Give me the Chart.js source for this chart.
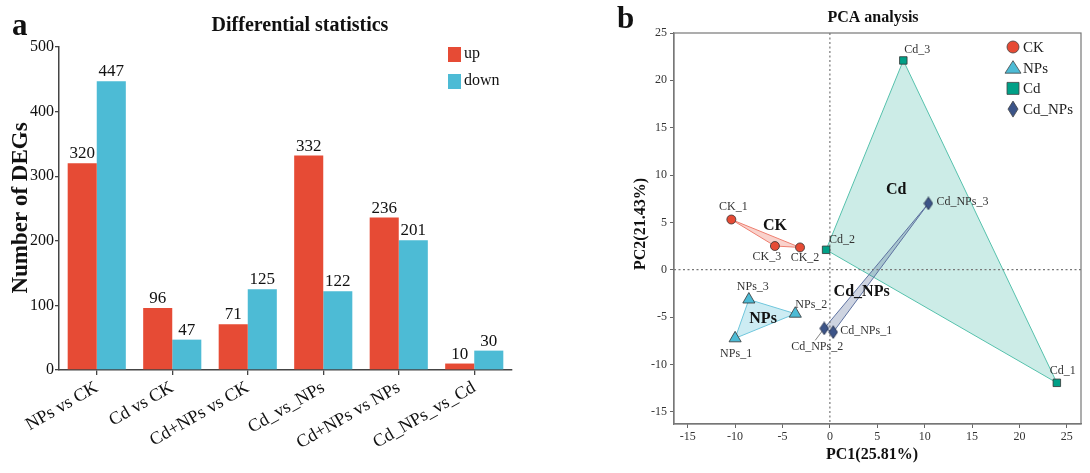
<!DOCTYPE html>
<html>
<head>
<meta charset="utf-8">
<script src="https://cdn.jsdelivr.net/npm/chart.js@4.4.0/dist/chart.umd.min.js"></script>
<style>
  html, body { margin: 0; padding: 0; background: #fff; overflow: hidden; }
  #barWrap { position: absolute; left: 0; top: 0; width: 600px; height: 473px; }
  #pcaWrap { position: absolute; left: 600px; top: 0; width: 490px; height: 473px; }
</style>
</head>
<body>
<div id="barWrap"><canvas id="barChart" width="600" height="473"></canvas></div>
<div id="pcaWrap"><canvas id="pcaChart" width="490" height="473"></canvas></div>
<script>
const FONT = "'Liberation Serif', 'Times New Roman', serif";

// ---- panel a: DEG counts ----
const comparisons = ["NPs vs CK", "Cd vs CK", "Cd+NPs vs CK", "Cd_vs_NPs", "Cd+NPs vs NPs", "Cd_NPs_vs_Cd"];
const upCounts = [320, 96, 71, 332, 236, 10];
const downCounts = [447, 47, 125, 122, 201, 30];
const degTicks = [0, 100, 200, 300, 400, 500];

// ---- panel b: PCA scores ----
const ckNames = ["CK_1", "CK_2", "CK_3"];
const ckX = [-10.4, -3.15, -5.8];
const ckY = [5.3, 2.35, 2.5];
const npsNames = ["NPs_1", "NPs_2", "NPs_3"];
const npsX = [-10.0, -3.65, -8.55];
const npsY = [-7.25, -4.65, -3.15];
const cdNames = ["Cd_1", "Cd_2", "Cd_3"];
const cdX = [23.95, -0.4, 7.75];
const cdY = [-11.95, 2.1, 22.1];
const cdnpsNames = ["Cd_NPs_1", "Cd_NPs_2", "Cd_NPs_3"];
const cdnpsX = [0.35, -0.6, 10.4];
const cdnpsY = [-6.6, -6.2, 7.0];
const groupNames = ["CK", "NPs", "Cd", "Cd_NPs"];
const groupLabelX = [-5.8, -7.05, 7.0, 3.35];
const groupLabelY = [4.65, -5.2, 8.4, -2.3];
const pcTicks = [-15, -10, -5, 0, 5, 10, 15, 20, 25];

const RED = "#E64B35", BLUE = "#4DBBD5", TEAL = "#00A087", NAVY = "#3C5488";

// ---------- panel a ----------
const barDecor = {
  id: "barDecor",
  afterDraw(chart) {
    const ctx = chart.ctx;
    ctx.save();
    ctx.fillStyle = "#111";
    ctx.textAlign = "left";
    ctx.textBaseline = "alphabetic";
    ctx.font = "bold 31px " + FONT;
    ctx.fillText("a", 12, 35);
    ctx.textAlign = "center";
    ctx.font = "bold 20px " + FONT;
    ctx.fillText("Differential statistics", 300, 31);

    ctx.save();
    ctx.translate(21, 208);
    ctx.rotate(-Math.PI / 2);
    ctx.textBaseline = "middle";
    ctx.font = "bold 23px " + FONT;
    ctx.fillText("Number of DEGs", 0, 0);
    ctx.restore();

    // value labels
    ctx.font = "17px " + FONT;
    ctx.textBaseline = "alphabetic";
    chart.data.datasets.forEach((ds, i) => {
      chart.getDatasetMeta(i).data.forEach((bar, j) => {
        ctx.fillText(String(ds.data[j]), bar.x, bar.y - 5);
      });
    });

    // legend
    ctx.textAlign = "left";
    ctx.textBaseline = "middle";
    ctx.font = "16px " + FONT;
    chart.data.datasets.forEach((ds, i) => {
      const y = 47 + i * 27;
      ctx.fillStyle = ds.backgroundColor;
      ctx.fillRect(448, y, 13, 15);
      ctx.fillStyle = "#111";
      ctx.fillText(ds.label, 464, y + 7);
    });
    ctx.restore();
  }
};

new Chart(document.getElementById("barChart"), {
  type: "bar",
  data: {
    labels: comparisons,
    datasets: [
      { label: "up", data: upCounts, backgroundColor: RED, categoryPercentage: 0.77, barPercentage: 1 },
      { label: "down", data: downCounts, backgroundColor: BLUE, categoryPercentage: 0.77, barPercentage: 1 }
    ]
  },
  options: {
    responsive: false,
    animation: false,
    layout: { padding: { top: 47, right: 88, left: 0, bottom: 0 } },
    plugins: { legend: { display: false }, tooltip: { enabled: false } },
    scales: {
      x: {
        grid: { offset: false, drawOnChartArea: false, tickLength: 5, color: "#444", lineWidth: 1.3 },
        border: { color: "#444", width: 1.5 },
        ticks: { font: { family: FONT, size: 18 }, color: "#111", minRotation: 30, maxRotation: 30, padding: 2 },
        afterFit: s => { s.height = 103; }
      },
      y: {
        min: 0,
        max: 500,
        afterBuildTicks: s => { s.ticks = degTicks.map(v => ({ value: v })); },
        grid: { drawOnChartArea: false, tickLength: 4, color: "#444", lineWidth: 1.3 },
        border: { color: "#444", width: 1.5 },
        ticks: { font: { family: FONT, size: 16 }, color: "#111", padding: 1 },
        afterFit: s => { s.width = 59; }
      }
    }
  },
  plugins: [barDecor]
});

// ---------- panel b ----------
function diamondCanvas(fill) {
  const c = document.createElement("canvas");
  c.width = 10; c.height = 14;
  const g = c.getContext("2d");
  g.beginPath();
  g.moveTo(5, 0.7); g.lineTo(9.3, 7); g.lineTo(5, 13.3); g.lineTo(0.7, 7); g.closePath();
  g.fillStyle = fill; g.fill();
  g.strokeStyle = "#1f2a44"; g.lineWidth = 0.8; g.stroke();
  return c;
}

const pcaGroups = [
  { names: ckNames, xs: ckX, ys: ckY, color: RED, edge: "#EE7F70", fill: "rgba(230,75,53,0.25)", style: "circle", r: 4.5 },
  { names: npsNames, xs: npsX, ys: npsY, color: BLUE, edge: "#6FC6DC", fill: "rgba(77,187,213,0.28)", style: "triangle", r: 7 },
  { names: cdNames, xs: cdX, ys: cdY, color: TEAL, edge: "#55C1AC", fill: "rgba(0,160,135,0.2)", style: "rect", r: 5.3 },
  { names: cdnpsNames, xs: cdnpsX, ys: cdnpsY, color: NAVY, edge: "#5E72A0", fill: "rgba(60,84,136,0.25)", style: diamondCanvas(NAVY), r: 6 }
];

// pixel offsets of each sample label from its point
const labelOffsets = {
  CK_1: [2, -13], CK_2: [5, 10], CK_3: [-8, 11],
  NPs_1: [1, 16], NPs_2: [16, -9], NPs_3: [4, -13],
  Cd_1: [6, -12], Cd_2: [16, -10], Cd_3: [14, -11],
  Cd_NPs_1: [33, -1.5], Cd_NPs_2: [-7, 18], Cd_NPs_3: [34, -2]
};

function drawShape(ctx, style, x, y, color) {
  ctx.beginPath();
  if (style === "circle") {
    ctx.arc(x, y, 6, 0, Math.PI * 2);
  } else if (style === "triangle") {
    ctx.moveTo(x, y - 7); ctx.lineTo(x + 8, y + 5.5); ctx.lineTo(x - 8, y + 5.5); ctx.closePath();
  } else if (style === "rect") {
    ctx.rect(x - 6, y - 6, 12, 12);
  } else {
    ctx.moveTo(x, y - 8); ctx.lineTo(x + 5, y); ctx.lineTo(x, y + 8); ctx.lineTo(x - 5, y); ctx.closePath();
  }
  ctx.fillStyle = color; ctx.fill();
  ctx.strokeStyle = "#444"; ctx.lineWidth = 0.8; ctx.stroke();
}

const pcaDecor = {
  id: "pcaDecor",
  beforeDatasetsDraw(chart) {
    const ctx = chart.ctx, sx = chart.scales.x, sy = chart.scales.y, a = chart.chartArea;
    ctx.save();
    // group hulls, Cd first so Cd_NPs sits on top
    [2, 0, 1, 3].forEach(gi => {
      const g = pcaGroups[gi];
      ctx.beginPath();
      g.xs.forEach((v, k) => {
        const px = sx.getPixelForValue(v), py = sy.getPixelForValue(g.ys[k]);
        if (k === 0) ctx.moveTo(px, py); else ctx.lineTo(px, py);
      });
      ctx.closePath();
      ctx.fillStyle = g.fill; ctx.fill();
      ctx.strokeStyle = g.edge; ctx.lineWidth = 1; ctx.stroke();
    });
    // zero lines
    ctx.strokeStyle = "#777"; ctx.lineWidth = 1.2; ctx.setLineDash([2, 2.5]);
    const x0 = sx.getPixelForValue(0), y0 = sy.getPixelForValue(0);
    ctx.beginPath();
    ctx.moveTo(x0, a.top); ctx.lineTo(x0, a.bottom);
    ctx.moveTo(a.left, y0); ctx.lineTo(a.right, y0);
    ctx.stroke();
    ctx.setLineDash([]);
    // leader line for Cd_NPs_2
    const m = chart.getDatasetMeta(3).data[1];
    ctx.strokeStyle = "#666"; ctx.lineWidth = 0.8;
    ctx.beginPath(); ctx.moveTo(m.x, m.y); ctx.lineTo(m.x - 9, m.y + 12); ctx.stroke();
    ctx.restore();
  },
  afterDraw(chart) {
    const ctx = chart.ctx, sx = chart.scales.x, sy = chart.scales.y, a = chart.chartArea;
    ctx.save();
    ctx.strokeStyle = "#777"; ctx.lineWidth = 1.2;
    ctx.strokeRect(a.left, a.top, a.right - a.left, a.bottom - a.top);

    // sample labels
    ctx.fillStyle = "#333"; ctx.font = "12px " + FONT;
    ctx.textAlign = "center"; ctx.textBaseline = "middle";
    pcaGroups.forEach((g, gi) => {
      chart.getDatasetMeta(gi).data.forEach((pt, k) => {
        const off = labelOffsets[g.names[k]];
        ctx.fillText(g.names[k], pt.x + off[0], pt.y + off[1]);
      });
    });

    // group labels
    ctx.fillStyle = "#111"; ctx.font = "bold 16px " + FONT;
    groupNames.forEach((n, i) => {
      ctx.fillText(n, sx.getPixelForValue(groupLabelX[i]), sy.getPixelForValue(groupLabelY[i]));
    });

    // titles
    ctx.textBaseline = "alphabetic";
    ctx.font = "bold 31px " + FONT; ctx.textAlign = "left";
    ctx.fillText("b", 17, 28);
    ctx.textAlign = "center";
    ctx.font = "bold 16px " + FONT;
    ctx.fillText("PCA analysis", 273, 22);
    ctx.fillText("PC1(25.81%)", 272, 459);
    ctx.save();
    ctx.translate(40.5, 224); ctx.rotate(-Math.PI / 2);
    ctx.textBaseline = "middle";
    ctx.fillText("PC2(21.43%)", 0, 0);
    ctx.restore();

    // legend
    ctx.textAlign = "left"; ctx.textBaseline = "middle";
    ctx.font = "15px " + FONT;
    pcaGroups.forEach((g, i) => {
      const y = 47 + i * 20.7;
      drawShape(ctx, typeof g.style === "string" ? g.style : "diamond", 413, y, g.color);
      ctx.fillStyle = "#222";
      ctx.fillText(groupNames[i], 423, y + 1);
    });
    ctx.restore();
  }
};

new Chart(document.getElementById("pcaChart"), {
  type: "scatter",
  data: {
    datasets: pcaGroups.map((g, i) => ({
      label: groupNames[i],
      data: g.xs.map((v, k) => ({ x: v, y: g.ys[k] })),
      pointStyle: g.style,
      pointRadius: g.r,
      backgroundColor: g.color,
      borderColor: "#333",
      borderWidth: 0.8
    }))
  },
  options: {
    responsive: false,
    animation: false,
    layout: { padding: { top: 33, right: 9, left: 0, bottom: 0 } },
    plugins: { legend: { display: false }, tooltip: { enabled: false } },
    scales: {
      x: {
        type: "linear", min: -16.45, max: 26.5,
        afterBuildTicks: s => { s.ticks = pcTicks.map(v => ({ value: v })); },
        grid: { drawOnChartArea: false, tickLength: 4, color: "#666" },
        border: { color: "#777", width: 1.2 },
        ticks: { font: { family: FONT, size: 12 }, color: "#333", padding: 2 },
        afterFit: s => { s.height = 49; }
      },
      y: {
        type: "linear", min: -16.3, max: 25,
        afterBuildTicks: s => { s.ticks = pcTicks.map(v => ({ value: v })); },
        grid: { drawOnChartArea: false, tickLength: 4, color: "#666" },
        border: { color: "#777", width: 1.2 },
        ticks: { font: { family: FONT, size: 12 }, color: "#333", padding: 3 },
        afterFit: s => { s.width = 74; }
      }
    }
  },
  plugins: [pcaDecor]
});
</script>
</body>
</html>
